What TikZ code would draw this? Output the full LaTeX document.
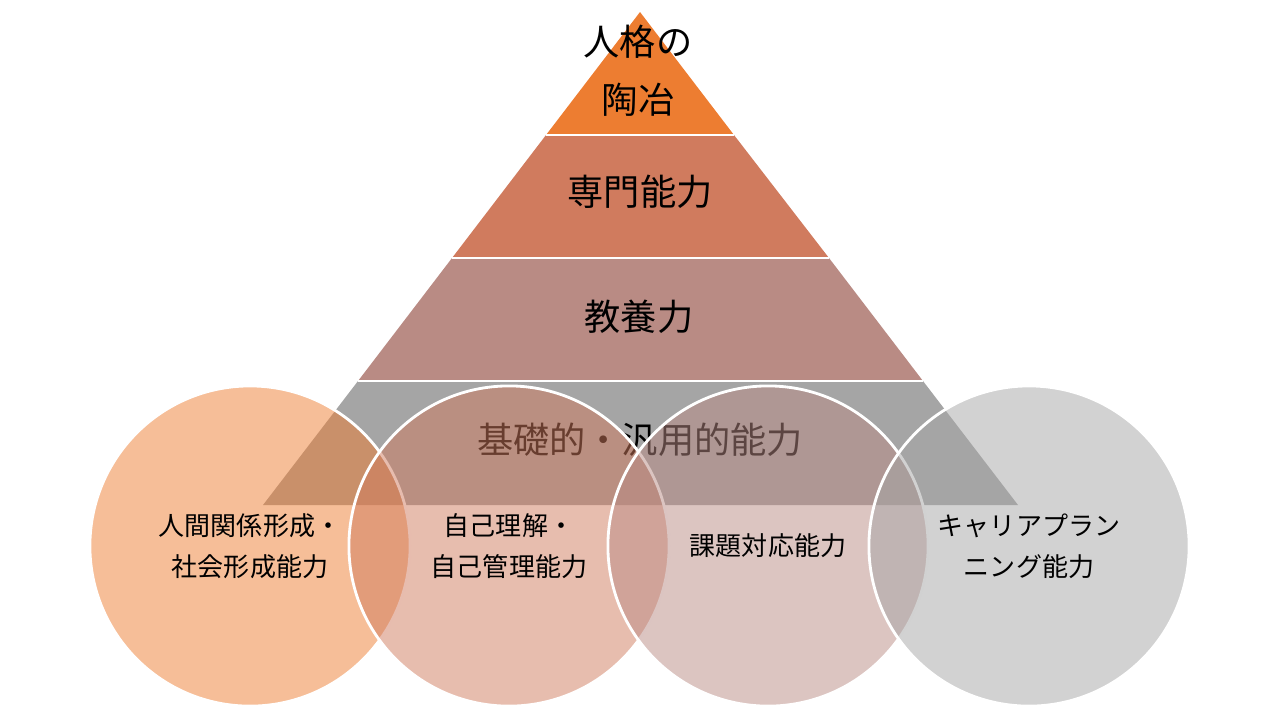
\documentclass[tikz,border=0pt]{standalone}
\usepackage{fontspec}
\setmainfont{Noto Sans CJK JP}
\usetikzlibrary{positioning}
\definecolor{cOne}{RGB}{237,125,49}
\definecolor{cTwo}{RGB}{208,123,94}
\definecolor{cThree}{RGB}{185,139,132}
\definecolor{cFour}{RGB}{165,165,165}
\tikzset{
  layertext/.style={align=center,text=black,font=\fontsize{10.3}{16.5}\selectfont},
  ring/.style={circle,minimum size=3.2cm,draw=white,line width=0.8pt,
               fill opacity=0.5,text opacity=1,align=center,text=black,
               font=\fontsize{7.4}{11.7}\selectfont},
  sepline/.style={white,line width=0.8pt}
}
\begin{document}
\begin{tikzpicture}[x=0.01cm,y=-0.01cm]
  \useasboundingbox (0,0) rectangle (1280,720);

  % Pyramid layers
  \fill[cOne]   (640,12) -- (734,135) -- (546,135) -- cycle;
  \fill[cTwo]   (546,135) -- (734,135) -- (829,258) -- (452,258) -- cycle;
  \fill[cThree] (452,258) -- (829,258) -- (923,381) -- (358,381) -- cycle;
  \fill[cFour]  (358,381) -- (923,381) -- (1018,505) -- (263,505) -- cycle;
  \draw[sepline] (546,135) -- (734,135);
  \draw[sepline] (452,258) -- (829,258);
  \draw[sepline] (358,381) -- (923,381);

  % Layer labels
  \node[layertext] (bildung) at (638,71)  {人格の\\陶冶};
  \node[layertext] (senmon)  at (640,192) {専門能力};
  \node[layertext] (kyoyo)   at (639,317) {教養力};
  \node[layertext] (kiso)    at (640,440) {基礎的・汎用的能力};

  % Four circles
  \node[ring,fill=cOne]   (ningen) at (250,546)  {人間関係形成・\\社会形成能力};
  \node[ring,fill=cTwo]   (jiko)   at (509,546)  {自己理解・\\自己管理能力};
  \node[ring,fill=cThree] (kadai)  at (768,546)  {課題対応能力};
  \node[ring,fill=cFour]  (career) at (1029,546) {キャリアプラン\\ニング能力};

\end{tikzpicture}
\end{document}
